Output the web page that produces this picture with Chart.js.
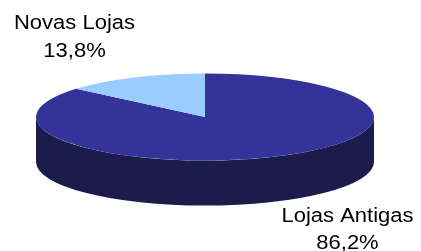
<!DOCTYPE html>
<html>
<head>
<meta charset="utf-8">
<script src="https://cdn.jsdelivr.net/npm/chart.js@4"></script>
<style>
  html, body { margin: 0; padding: 0; background: #fff; }
  #wrap { width: 421px; height: 251px; position: relative; }
</style>
</head>
<body>
<div id="wrap"><canvas id="c1"></canvas></div>
<script>
// =========================
// DADOS
// =========================
const categorias = ["Lojas Antigas", "Novas Lojas"];
const valores = [86.2, 13.8];
const cores = ["#333399", "#99ccff"];
const coresLado = ["#1b1b4c", "#4d6680"];

function formatPct(v){
    return Number(v).toLocaleString("pt-PT", {
        minimumFractionDigits: 1,
        maximumFractionDigits: 1
    }) + "%";
}

// =========================
// PLUGIN PIE 3D
// =========================
const pie3d = {
    id: "pie3d",
    beforeDatasetsDraw(chart, args, o){
        const ctx = chart.ctx;
        const arcs = chart.getDatasetMeta(0).data;
        const a0 = arcs[0];
        const sx = o.rx / a0.outerRadius, sy = o.ry / a0.outerRadius;
        const off = o.depth / sy;

        ctx.save();
        ctx.translate(o.cx, o.cy);
        ctx.scale(sx, sy);
        ctx.translate(-a0.x, -a0.y);

        // lado (so a parte da frente, angulos 0..PI)
        arcs.forEach((arc, i) => {
            const R = arc.outerRadius;
            for(let k = -1; k <= 1; k++){
                const a1 = Math.max(arc.startAngle, 2 * Math.PI * k);
                const a2 = Math.min(arc.endAngle, 2 * Math.PI * k + Math.PI);
                if(a2 <= a1) continue;
                ctx.beginPath();
                ctx.arc(arc.x, arc.y, R, a1, a2);
                ctx.lineTo(arc.x + R * Math.cos(a2), arc.y + off + R * Math.sin(a2));
                ctx.arc(arc.x, arc.y + off, R, a2, a1, true);
                ctx.closePath();
                ctx.fillStyle = coresLado[i];
                ctx.fill();
            }
        });
        // topo desenhado pelo Chart.js com esta transformacao
    },
    afterDatasetsDraw(chart, args, o){
        const ctx = chart.ctx;
        ctx.restore();

        const arcs = chart.getDatasetMeta(0).data;
        const total = valores.reduce((s, v) => s + v, 0);

        ctx.save();
        ctx.font = "20px 'Liberation Sans', Arial, sans-serif";
        ctx.fillStyle = "#000";
        ctx.textAlign = "center";
        ctx.textBaseline = "alphabetic";

        const texto = (t, x, y) => {
            ctx.save();
            ctx.translate(x, y);
            ctx.scale(1.1, 1);
            ctx.fillText(t, 0, 0);
            ctx.restore();
        };

        arcs.forEach((arc, i) => {
            const mid = (arc.startAngle + arc.endAngle) / 2;
            const c = Math.cos(mid), s = Math.sin(mid);
            const ex = o.cx + o.rx * c;
            const ey = o.cy + o.ry * s + (s > 0 ? o.depth : 0);
            const lx = ex + (c < 0 ? -59.5 : 71.5);
            const ly = s < 0 ? ey - 48.5 : ey + 20.5;
            texto(categorias[i], lx, ly);
            texto(formatPct(valores[i] / total * 100), lx, ly + 27.5);
        });
        ctx.restore();
    }
};

// =========================
// GRÁFICO
// =========================
new Chart(document.getElementById("c1"), {
    type: "pie",
    data: {
        labels: categorias,
        datasets: [{
            data: valores,
            backgroundColor: cores,
            borderWidth: 0
        }]
    },
    options: {
        responsive: true,
        maintainAspectRatio: false,
        animation: false,
        events: [],
        plugins: {
            legend: { display: false },
            tooltip: { enabled: false },
            pie3d: { cx: 205, cy: 117, rx: 169, ry: 43.5, depth: 45 }
        }
    },
    plugins: [pie3d]
});
</script>
</body>
</html>
